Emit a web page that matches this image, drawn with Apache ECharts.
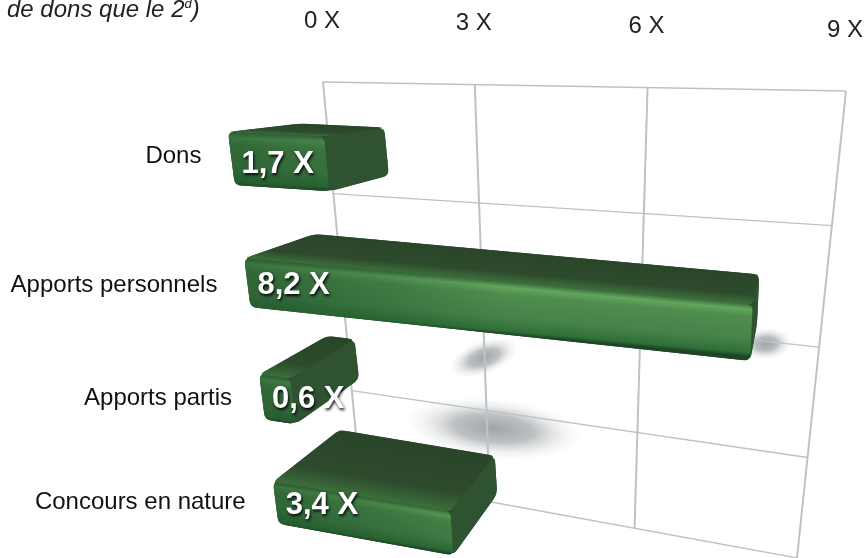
<!DOCTYPE html>
<html><head><meta charset="utf-8">
<style>html,body{margin:0;padding:0;background:#fff}#c{width:868px;height:558px}</style>
<script src="https://cdn.jsdelivr.net/npm/echarts@6/dist/echarts.min.js"></script>
</head><body><div id="c"></div>
<script>
const categories = ['Dons','Apports personnels','Apports partis','Concours en nature'];
const values = [1.7,8.2,0.6,3.4];
const xTicks = [0,3,6,9];
const xTickLabels = ['0 X','3 X','6 X','9 X'];

function quadMap(q){
  const [p0,p1,p2,p3]=q;
  const dx1=p1[0]-p2[0],dx2=p3[0]-p2[0],sx=p0[0]-p1[0]+p2[0]-p3[0];
  const dy1=p1[1]-p2[1],dy2=p3[1]-p2[1],sy=p0[1]-p1[1]+p2[1]-p3[1];
  const den=dx1*dy2-dx2*dy1;
  const g=(sx*dy2-dx2*sy)/den,h=(dx1*sy-sx*dy1)/den;
  const a=p1[0]-p0[0]+g*p1[0],b=p3[0]-p0[0]+h*p3[0],c=p0[0];
  const d=p1[1]-p0[1]+g*p1[1],e=p3[1]-p0[1]+h*p3[1],f=p0[1];
  return (u,v)=>{const w=g*u+h*v+1;return [(a*u+b*v+c)/w,(d*u+e*v+f)/w];};
}
const GRID={left:323,top:82,width:523,height:476};
const wall=quadMap([[323,82],[846,91],[797,558],[360,478]]);
const front=quadMap([[228,132],[822,160],[795,569],[273,482]]);
const VP=[805,65], DEPTH=0.125, BAR=0.41;
const back=p=>[p[0]+DEPTH*(VP[0]-p[0]),p[1]+DEPTH*(VP[1]-p[1])];
function norm(api,v,i){ // through the axes: value + category band -> unit coordinates
  const c=api.coord([v,i]), band=api.size([0,1])[1];
  return {u:(c[0]-GRID.left)/GRID.width,row:(c[1]-GRID.top)/band-0.5,band};
}
function roundPoly(pts,rad){
  const out=[],n=pts.length;
  for(let k=0;k<n;k++){
    const p=pts[k],a=pts[(k+n-1)%n],b=pts[(k+1)%n];
    const la=Math.hypot(a[0]-p[0],a[1]-p[1]),lb=Math.hypot(b[0]-p[0],b[1]-p[1]);
    const r=Math.min(rad,la/2,lb/2);
    const s=[p[0]+(a[0]-p[0])*r/la,p[1]+(a[1]-p[1])*r/la],e=[p[0]+(b[0]-p[0])*r/lb,p[1]+(b[1]-p[1])*r/lb];
    for(let t=0;t<=6;t++){const q=t/6,m=1-q;out.push([m*m*s[0]+2*m*q*p[0]+q*q*e[0],m*m*s[1]+2*m*q*p[1]+q*q*e[1]]);}
  }
  return out;
}
function acrossGradient(tl,tr,br,bl,stops){
  const mx=(tl[0]+tr[0])/2,my=(tl[1]+tr[1])/2;
  const dx=tr[0]-tl[0],dy=tr[1]-tl[1],L=Math.hypot(dx,dy);
  const nx=-dy/L,ny=dx/L;
  const h=((bl[0]+br[0])/2-mx)*nx+((bl[1]+br[1])/2-my)*ny;
  return new echarts.graphic.LinearGradient(mx,my,mx+nx*h,my+ny*h,stops,true);
}
function renderWall(params,api){
  const kind=api.value(0),k=api.value(1);
  let a,b,lw;
  if(kind===0){const n=norm(api,k,0);a=wall(n.u,0);b=wall(n.u,1);lw=2;}
  else{const band=api.size([0,1])[1];const t=k*band/GRID.height;a=wall(0,t);b=wall(1,t);lw=1.3;}
  return {type:'line',shape:{x1:a[0],y1:a[1],x2:b[0],y2:b[1]},style:{stroke:'#bcc3c8',lineWidth:lw}};
}
const shadowPlace=[null,[8.15,2.02,26,16,-0.1],[2.98,2.46,36,17,-0.35],[3.15,3.18,88,30,0.1]];
function renderShadow(params,api){
  const s=shadowPlace[api.value(1)];
  if(!s)return null;
  const n=norm(api,s[0],0),p=wall(n.u,s[1]/4);
  return {type:'circle',shape:{cx:0,cy:0,r:1},x:p[0],y:p[1],scaleX:s[2],scaleY:s[3],rotation:-s[4],
    style:{fill:new echarts.graphic.RadialGradient(0.5,0.5,0.5,[
      {offset:0,color:'rgba(125,130,133,0.72)'},{offset:0.45,color:'rgba(135,140,143,0.55)'},{offset:0.75,color:'rgba(165,170,172,0.2)'},{offset:1,color:'rgba(190,195,197,0)'}])}};
}
const labelNudge=[-3,1,0,-2], valueNudge=[4,1,0,0];
function renderBar(params,api){
  const val=api.value(0),i=api.value(1);
  const n=norm(api,val,i);
  const r=n.row,uEnd=n.u;
  const tl=front(0,r/3),tr=front(uEnd,r/3),br=front(uEnd,(r+BAR)/3),bl=front(0,(r+BAR)/3);
  const btl=back(tl),btr=back(tr),bbr=back(br);
  const frontFill=acrossGradient(tl,tr,br,bl,[
    {offset:0,color:'#3c6e3c'},{offset:0.1,color:'#62a65e'},{offset:0.24,color:'#4f8c4d'},
    {offset:0.68,color:'#47824a'},{offset:0.93,color:'#2f6f38'},{offset:1,color:'#1c4726'}]);
  const topFill=acrossGradient(btl,btr,tr,tl,[
    {offset:0,color:'#2a4529'},{offset:0.68,color:'#2d4b2c'},{offset:1,color:'#3d6f3c'}]);
  const leftShade=new echarts.graphic.LinearGradient(tl[0],0,tl[0]+260,0,[
    {offset:0,color:'rgba(28,78,40,0.58)'},{offset:0.45,color:'rgba(28,78,40,0.34)'},{offset:1,color:'rgba(28,78,40,0)'}],true);
  const mid=front(0,(r+BAR/2)/3);
  return {type:'group',children:[
    {type:'polygon',shape:{points:roundPoly([tl,btl,btr,bbr,br,bl],8)},style:{fill:'#2d4a2c'}},
    {type:'polygon',shape:{points:roundPoly([tl,btl,btr,tr],5)},style:{fill:topFill}},
    {type:'polygon',shape:{points:roundPoly([tr,btr,bbr,br],6)},style:{fill:'#2f5230'}},
    {type:'polygon',shape:{points:roundPoly([tl,tr,br,bl],6)},style:{fill:frontFill}},
    {type:'polygon',shape:{points:roundPoly([tl,tr,br,bl],6)},style:{fill:leftShade}},
    {type:'text',x:mid[0]+10,y:mid[1]+2+valueNudge[i],style:{text:String(val).replace('.',',')+' X',fill:'#fff',
      font:'bold 31px "Liberation Sans"',align:'left',verticalAlign:'middle',
      textShadowColor:'rgba(0,0,0,0.9)',textShadowBlur:3,textShadowOffsetX:1,textShadowOffsetY:2}},
    {type:'text',x:mid[0]-30,y:mid[1]+1+labelNudge[i],style:{text:categories[i],fill:'#111',
      font:'24px "Liberation Sans"',align:'right',verticalAlign:'middle'}}
  ]};
}
function renderTick(params,api){
  const k=api.value(0);
  const n=norm(api,xTicks[k],0),p=wall(n.u,0);
  return {type:'text',x:p[0]-1,y:p[1]-61,style:{text:xTickLabels[k],fill:'#222',
    font:'24px "Liberation Sans"',align:'center',verticalAlign:'middle'}};
}
const chart=echarts.init(document.getElementById('c'),null,{renderer:'canvas'});
chart.setOption({
  animation:false,
  backgroundColor:'#fff',
  title:{text:'{a|de dons que le 2}{s|d}{a|)}',left:7,top:-2,padding:0,
    textStyle:{fontWeight:'normal',rich:{
      a:{fontFamily:'Liberation Sans',fontStyle:'italic',fontWeight:'normal',fontSize:24,color:'#222'},
      s:{fontFamily:'Liberation Sans',fontStyle:'italic',fontWeight:'normal',fontSize:13,color:'#222',padding:[0,0,12,0]}}}},
  grid:GRID,
  xAxis:{type:'value',min:0,max:9,interval:3,position:'top',show:false},
  yAxis:{type:'category',data:categories,inverse:true,show:false},
  tooltip:{show:false},
  series:[
    {type:'custom',coordinateSystem:'cartesian2d',z:1,renderItem:renderShadow,silent:true,
      data:categories.map((c,i)=>[0,i])},
    {type:'custom',coordinateSystem:'cartesian2d',z:2,renderItem:renderWall,silent:true,
      data:xTicks.map(t=>[0,t]).concat([0,1,2,3,4].map(k=>[1,k])),encode:{x:-1,y:-1}},
    {type:'custom',coordinateSystem:'cartesian2d',z:3,renderItem:renderBar,silent:true,
      data:values.map((v,i)=>[v,i]),encode:{x:0,y:1},clip:false},
    {type:'custom',coordinateSystem:'cartesian2d',z:4,renderItem:renderTick,silent:true,
      data:xTicks.map((t,k)=>[k]),encode:{x:-1,y:-1},clip:false}
  ]
});
</script></body></html>
